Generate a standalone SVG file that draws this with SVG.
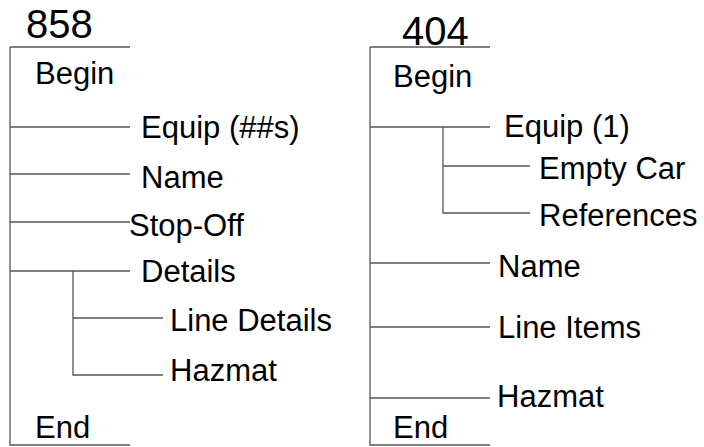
<svg xmlns="http://www.w3.org/2000/svg" width="704" height="447" viewBox="0 0 704 447">
<style>
.ln{stroke:#555;stroke-width:1.3;fill:none}
text{font-family:"Liberation Sans",Arial,sans-serif;font-size:31px;fill:#000}
.t{font-size:40px}
</style>
<rect width="704" height="447" fill="#fff"/>
<g id="connectors">
<path class="ln" d="M10,47H130M10,47V445H130M10,127H130M10,174H130M10,222H130M10,271H130M73,271V375H163M73,318H163"/>
<path class="ln" d="M370,47H490M370,47V445H490M370,127H490M443,127V213H530M443,166H530M370,263H490M370,327H490M370,398H490"/>
</g>
<g id="t858"><text class="t" x="26" y="38">858</text></g>
<g id="begin1"><text x="35" y="84">Begin</text></g>
<g id="equip1"><text x="141" y="138">Equip (##s)</text></g>
<g id="name1"><text x="141" y="188">Name</text></g>
<g id="stopoff"><text x="129" y="236">Stop-Off</text></g>
<g id="details"><text x="141" y="282">Details</text></g>
<g id="linedetails"><text x="170" y="331">Line Details</text></g>
<g id="hazmat1"><text x="170" y="381">Hazmat</text></g>
<g id="end1"><text x="35" y="438">End</text></g>
<g id="t404"><text class="t" x="402" y="45">404</text></g>
<g id="begin2"><text x="393" y="87">Begin</text></g>
<g id="equip2"><text x="504" y="137">Equip (1)</text></g>
<g id="emptycar"><text x="539" y="179">Empty Car</text></g>
<g id="references"><text x="539" y="226">References</text></g>
<g id="name2"><text x="498" y="277">Name</text></g>
<g id="lineitems"><text x="498" y="338">Line Items</text></g>
<g id="hazmat2"><text x="497" y="407">Hazmat</text></g>
<g id="end2"><text x="393" y="438">End</text></g>
</svg>
